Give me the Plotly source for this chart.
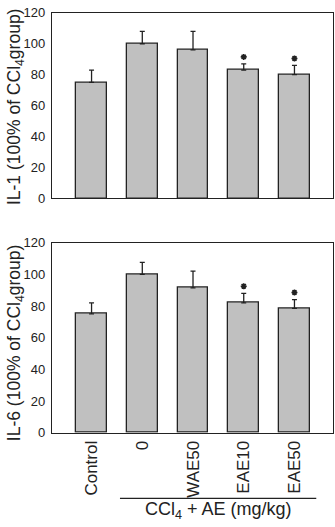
import plotly.graph_objects as go

# Groups and measurements (% of the CCl4 group)
groups = ["Control", "0", "WAE50", "EAE10", "EAE50"]
il1_mean = [75, 100, 96, 83, 80]
il1_sd = [8, 8, 12, 4, 6]
il6_mean = [75, 100, 91.5, 82, 78.5]
il6_sd = [7, 7.5, 10.5, 6, 5.5]
# Groups marked as significantly different from CCl4 alone
significant = [False, False, False, True, True]

y_ticks = [0, 20, 40, 60, 80, 100, 120]

FONT = "Liberation Sans, Arial, sans-serif"
INK = "#222222"
BAR_FILL = "#c0c0c0"
STAR_GAP = 4.5

xpos = list(range(len(groups)))

fig = go.Figure()


def add_panel(mean, sd, xa, ya):
    fig.add_trace(go.Bar(
        x=xpos, y=mean, width=0.61,
        marker=dict(color=BAR_FILL, line=dict(color=INK, width=1.3)),
        error_y=dict(type="data", symmetric=False, array=sd,
                     arrayminus=[0] * len(sd), color=INK,
                     thickness=1.3, width=2.5),
        xaxis=xa, yaxis=ya, showlegend=False, hoverinfo="skip",
    ))
    sx = [x for x, s in zip(xpos, significant) if s]
    sy = [m + e + STAR_GAP for m, e, s in zip(mean, sd, significant) if s]
    fig.add_trace(go.Scatter(
        x=sx, y=sy, mode="markers",
        marker=dict(symbol="asterisk-open", size=5, color=INK,
                    line=dict(color=INK, width=1.6)),
        xaxis=xa, yaxis=ya, showlegend=False, hoverinfo="skip",
    ))


add_panel(il1_mean, il1_sd, "x", "y")
add_panel(il6_mean, il6_sd, "x2", "y2")

x_dom = [52 / 335, 332.5 / 335]
x_range = [-0.78, 4.75]
axis_common = dict(showline=True, linecolor=INK, linewidth=1.3, mirror=True,
                   showgrid=False, zeroline=False)

y_common = dict(axis_common, range=[0, 120], tickvals=y_ticks,
                tickfont=dict(family=FONT, size=13, color=INK),
                ticks="", ticklabelstandoff=3)

fig.update_layout(
    width=335, height=527,
    margin=dict(l=0, r=0, t=0, b=0),
    paper_bgcolor="white", plot_bgcolor="white",
    bargap=0,
    xaxis=dict(axis_common, domain=x_dom, range=x_range, anchor="y",
               showticklabels=False, ticks=""),
    yaxis=dict(y_common, domain=[1 - 197 / 527, 1 - 6 / 527], anchor="x"),
    xaxis2=dict(axis_common, domain=x_dom, range=x_range, anchor="y2",
                tickvals=xpos, ticktext=groups, tickangle=-90, ticks="",
                tickfont=dict(family=FONT, size=17, color=INK)),
    yaxis2=dict(y_common, domain=[1 - 438.3 / 527, 1 - 242.5 / 527], anchor="x2"),
)

# Rotated y-axis titles
for text, yc in [("IL-1 (100% of CCl<sub>4</sub>group)", 1 - 103 / 527),
                 ("IL-6 (100% of CCl<sub>4</sub>group)", 1 - 346 / 527)]:
    fig.add_annotation(text=text, textangle=-90, xref="paper", yref="paper",
                       x=15 / 335, y=yc, xanchor="center", yanchor="middle",
                       showarrow=False,
                       font=dict(family=FONT, size=17.5, color=INK))

# Bracket line grouping the CCl4-treated groups, with its caption
fig.add_shape(type="line", xref="x2", yref="paper",
              x0=0.56, x1=4.43, y0=1 - 505.7 / 527, y1=1 - 505.7 / 527,
              line=dict(color=INK, width=1.2))
fig.add_annotation(text="CCl<sub>4</sub> + AE (mg/kg)", xref="x2", yref="paper",
                   x=2.5, y=1 - 518 / 527, xanchor="center", yanchor="middle",
                   showarrow=False, font=dict(family=FONT, size=18, color=INK))

fig.write_html("out.html")
